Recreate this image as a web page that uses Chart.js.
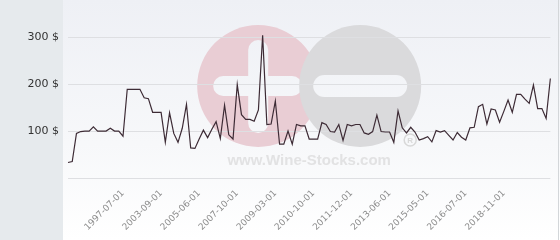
<!DOCTYPE html>
<html>
<head>
<meta charset="utf-8">
<script src="https://cdn.jsdelivr.net/npm/chart.js@4.4.0/dist/chart.umd.min.js"></script>
<style>
  html, body { margin: 0; padding: 0; background: #fff; }
  #wrap {
    position: relative; width: 560px; height: 240px; overflow: hidden;
    background: linear-gradient(to bottom, #eef0f5 0%, #f7f8fa 60%, #ffffff 100%);
  }
  #side { position: absolute; left: 0; top: 0; width: 63px; height: 240px; background: #e6eaed; }
  #edge { position: absolute; left: 558px; top: 0; width: 1px; height: 240px; background: #d3d6d9; }
  #price { position: absolute; left: 0; top: 0; }
</style>
</head>
<body>
<div id="wrap">
  <div id="side"></div>
  <div id="edge"></div>
  <canvas id="price" width="560" height="240"></canvas>
</div>
<script>
// price per bottle, one value per auction point
const prices = [
    33, 35, 95, 99, 100, 100, 109, 100, 100, 100,
    106, 100, 100, 89, 189, 189, 189, 189, 171, 169,
    140, 140, 140, 76, 139, 95, 76, 106, 157, 64,
    63, 83, 102, 86, 104, 120, 84, 155, 92, 83,
    199, 135, 125, 125, 121, 145, 304, 114, 115, 164,
    72, 72, 100, 72, 114, 111, 111, 83, 83, 83,
    118, 114, 99, 98, 114, 80, 114, 111, 114, 114,
    96, 93, 99, 134, 99, 98, 98, 76, 143, 107,
    96, 108, 98, 81, 84, 88, 77, 101, 98, 101,
    91, 81, 97, 87, 81, 107, 108, 152, 157, 115,
    147, 145, 119, 142, 166, 140, 178, 178, 168, 159,
    198, 148, 148, 127, 212
];

// dates shown under the axis
const tickDates = ['1997-07-01', '2003-09-01', '2005-06-01', '2007-10-01', '2009-03-01',
    '2010-10-01', '2011-12-01', '2013-06-01', '2015-05-01', '2016-07-01', '2018-11-01'];
const firstTick = 13;
const tickStep = 9;

const yTicks = [0, 100, 200, 300];

const labels = prices.map(() => '');
tickDates.forEach((d, i) => { labels[firstTick + i * tickStep] = d; });

// wine-stocks logo behind the plot
const watermark = {
    id: 'watermark',
    beforeDraw(chart) {
        const ctx = chart.ctx;
        const a = chart.chartArea;
        const cx = (a.left + a.right) / 2;
        const cy = 86;
        ctx.save();
        ctx.fillStyle = '#e9cdd4';
        ctx.beginPath();
        ctx.arc(cx - 51, cy, 61, 0, Math.PI * 2);
        ctx.fill();
        ctx.globalCompositeOperation = 'destination-out';
        ctx.lineCap = 'round';
        ctx.lineWidth = 20;
        ctx.beginPath();
        ctx.moveTo(cx - 86, cy); ctx.lineTo(cx - 17, cy);
        ctx.moveTo(cx - 51, cy - 36); ctx.lineTo(cx - 51, cy + 37);
        ctx.stroke();
        ctx.globalCompositeOperation = 'source-over';
        ctx.fillStyle = '#dadadc';
        ctx.beginPath();
        ctx.arc(cx + 51, cy, 61, 0, Math.PI * 2);
        ctx.fill();
        ctx.globalCompositeOperation = 'destination-out';
        ctx.lineWidth = 22;
        ctx.beginPath();
        ctx.moveTo(cx + 15, cy); ctx.lineTo(cx + 87, cy);
        ctx.stroke();
        ctx.globalCompositeOperation = 'source-over';
        ctx.fillStyle = '#e2e2e3';
        ctx.font = 'bold 15px "Liberation Sans", Arial, sans-serif';
        ctx.textAlign = 'center';
        ctx.textBaseline = 'alphabetic';
        ctx.fillText('www.Wine-Stocks.com', cx, 165);
        ctx.strokeStyle = '#d8d8d8';
        ctx.lineWidth = 1.5;
        ctx.beginPath();
        ctx.arc(cx + 101, 140, 6, 0, Math.PI * 2);
        ctx.stroke();
        ctx.fillStyle = '#d8d8d8';
        ctx.font = 'bold 8px "Liberation Sans", Arial, sans-serif';
        ctx.textBaseline = 'middle';
        ctx.fillText('R', cx + 101, 140.5);
        ctx.restore();
    }
};

new Chart(document.getElementById('price'), {
    type: 'line',
    data: {
        labels: labels,
        datasets: [{
            data: prices,
            borderColor: '#3d2b35',
            borderWidth: 1.2,
            pointRadius: 0,
            tension: 0,
            fill: false
        }]
    },
    options: {
        responsive: false,
        animation: false,
        layout: { padding: { top: 2, right: 5, left: 0, bottom: 0 } },
        plugins: {
            legend: { display: false },
            tooltip: { enabled: false }
        },
        scales: {
            x: {
                grid: { display: false },
                border: { display: false },
                afterFit: (s) => { s.height = 62; },
                ticks: {
                    autoSkip: false,
                    minRotation: 45,
                    maxRotation: 45,
                    padding: 2,
                    color: '#8c8c8c',
                    font: { family: 'DejaVu Sans', size: 9 }
                }
            },
            y: {
                min: 0,
                max: 375,
                border: { display: false },
                grid: { color: '#dedfe2', drawTicks: false },
                afterBuildTicks: (s) => { s.ticks = yTicks.map(v => ({ value: v })); },
                afterFit: (s) => { s.width = 68; s.paddingTop = 0; s.paddingBottom = 0; },
                ticks: {
                    padding: 9,
                    color: '#333',
                    font: { family: 'DejaVu Sans', size: 11 },
                    callback: (v) => v === 0 ? '' : v + ' $'
                }
            }
        }
    },
    plugins: [watermark]
});
</script>
</body>
</html>
